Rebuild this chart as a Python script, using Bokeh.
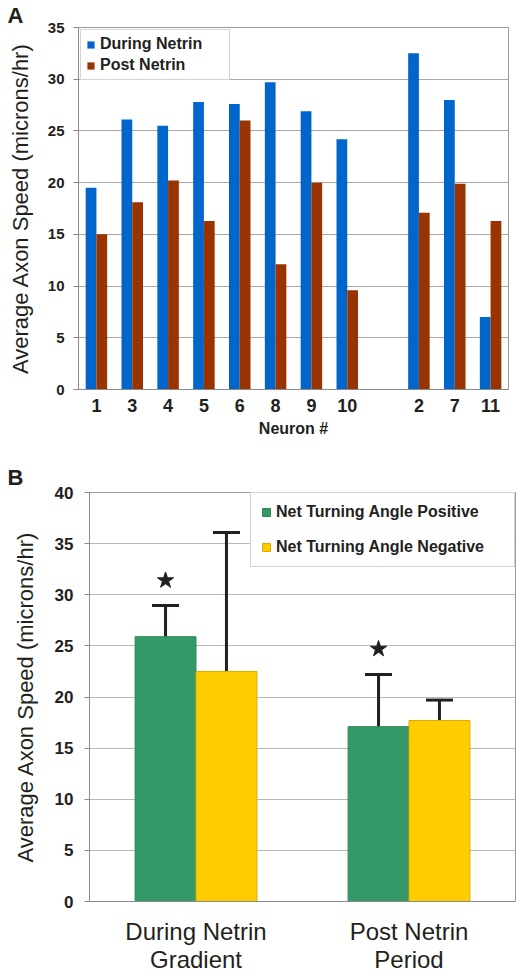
from bokeh.plotting import figure
from bokeh.models import (ColumnDataSource, FactorRange, Range1d, FixedTicker,
                          Legend, LegendItem, Whisker, TeeHead)
from bokeh.transform import dodge
from bokeh.layouts import column
from bokeh.embed import file_html
from bokeh.resources import INLINE

# ---------------- data (panel A) ----------------
neuron_ids = ["1", "3", "4", "5", "6", "8", "9", "10", "2", "7", "11"]
during_netrin = [19.5, 26.1, 25.5, 27.8, 27.6, 29.7, 26.9, 24.2, 32.5, 28.0, 7.0]
post_netrin = [15.0, 18.1, 20.2, 16.3, 26.0, 12.1, 20.0, 9.6, 17.1, 19.9, 16.3]
x_factors_a = neuron_ids[:8] + [" "] + neuron_ids[8:]
y_ticks_a = [0, 5, 10, 15, 20, 25, 30, 35]

# ---------------- data (panel B) ----------------
periods = ["During Netrin\nGradient", "Post Netrin\nPeriod"]
angle_positive = [25.9, 17.1]
angle_negative = [22.5, 17.7]
positive_low = [22.8, 12.0]
positive_high = [28.95, 22.2]
negative_low = [8.9, 15.8]
negative_high = [36.1, 19.7]
star_y = [31.4, 24.7]
y_ticks_b = [0, 5, 10, 15, 20, 25, 30, 35, 40]

BLUE = "#0066CC"
BROWN = "#993300"
GREEN = "#339966"
YELLOW = "#FFCC00"
DARK = "#231F20"
FONT = "Liberation Sans"


def style_axes(p, ytick_size, ylabel_standoff, ytick_standoff):
    p.outline_line_color = "#9a9a9a"
    p.xgrid.grid_line_color = None
    p.ygrid.grid_line_color = "#a8a8a8"
    p.background_fill_color = "white"
    p.border_fill_color = "white"
    for ax in (p.xaxis[0], p.yaxis[0]):
        ax.axis_line_color = "#8a8a8a"
        ax.minor_tick_line_color = None
        ax.major_label_text_font = FONT
        ax.major_label_text_font_style = "bold"
        ax.major_label_text_color = DARK
        ax.axis_label_text_font = FONT
        ax.axis_label_text_color = DARK
    p.xaxis.major_tick_line_color = None
    p.yaxis.major_tick_line_color = "#8a8a8a"
    p.yaxis.major_tick_out = 5
    p.yaxis.major_tick_in = 0
    p.yaxis.major_label_text_font_size = ytick_size
    p.yaxis.major_label_standoff = ytick_standoff
    p.yaxis.axis_label_text_font_style = "normal"
    p.yaxis.axis_label_text_font_size = "22px"
    p.yaxis.axis_label_standoff = ylabel_standoff


def style_title(p, offset, standoff):
    p.title.align = "left"
    p.title.offset = offset
    p.title.standoff = standoff
    p.title.text_font = FONT
    p.title.text_font_style = "bold"
    p.title.text_font_size = "22px"
    p.title.text_color = DARK
    p.title.text_line_height = 1.0


# ---------------- panel A ----------------
srcA = ColumnDataSource(dict(neuron=neuron_ids, during=during_netrin, post=post_netrin))
pA = figure(x_range=FactorRange(*x_factors_a), y_range=Range1d(0, 35),
            width=527, height=440, output_backend="svg", toolbar_location=None,
            title="A",
            min_border_left=78, min_border_right=19, min_border_top=21,
            min_border_bottom=51)
rA1 = pA.vbar(x=dodge("neuron", -0.15, range=pA.x_range), top="during", width=0.3,
              source=srcA, fill_color=BLUE, line_color=None)
rA2 = pA.vbar(x=dodge("neuron", 0.15, range=pA.x_range), top="post", width=0.3,
              source=srcA, fill_color=BROWN, line_color=None)
style_axes(pA, "15px", 12, 9)
style_title(pA, -71, 0)
pA.yaxis.ticker = FixedTicker(ticks=y_ticks_a)
pA.yaxis.axis_label = "Average Axon Speed (microns/hr)"
pA.xaxis.major_label_text_font_size = "18px"
pA.xaxis.major_label_standoff = 0
pA.xaxis.axis_label = "Neuron #"
pA.xaxis.axis_label_text_font_style = "bold"
pA.xaxis.axis_label_text_font_size = "16px"
pA.xaxis.axis_label_standoff = 1

legA = Legend(items=[LegendItem(label="During Netrin", renderers=[rA1]),
                     LegendItem(label="Post Netrin", renderers=[rA2])],
              location="top_left", margin=2, padding=5, spacing=3,
              label_height=16, label_width=124, glyph_width=9, glyph_height=9,
              label_standoff=5, label_text_font=FONT, label_text_font_style="bold",
              label_text_font_size="16px", label_text_color=DARK,
              border_line_color="#aaaaaa", border_line_width=1,
              background_fill_color="white", background_fill_alpha=1.0)
pA.add_layout(legA, "center")

# ---------------- panel B ----------------
srcB = ColumnDataSource(dict(period=periods, pos=angle_positive, neg=angle_negative,
                             pos_low=positive_low, pos_high=positive_high,
                             neg_low=negative_low, neg_high=negative_high,
                             star=star_y))
pB = figure(x_range=FactorRange(*periods), y_range=Range1d(0, 40),
            width=527, height=535, output_backend="svg", toolbar_location=None,
            title="B",
            min_border_left=89, min_border_right=12, min_border_top=52,
            min_border_bottom=74)
rB1 = pB.vbar(x=dodge("period", -0.143, range=pB.x_range), top="pos", width=0.286,
              source=srcB, fill_color=GREEN, line_color="#2e8a5b")
rB2 = pB.vbar(x=dodge("period", 0.143, range=pB.x_range), top="neg", width=0.286,
              source=srcB, fill_color=YELLOW, line_color="#d8ac00")
for off, lo, hi in ((-0.143, "pos_low", "pos_high"), (0.143, "neg_low", "neg_high")):
    w = Whisker(base=dodge("period", off, range=pB.x_range), lower=lo, upper=hi,
                source=srcB, line_color=DARK, line_width=3,
                upper_head=TeeHead(size=27, line_color=DARK, line_width=3),
                lower_head=TeeHead(size=27, line_color=DARK, line_width=3))
    pB.add_layout(w)
pB.scatter(x=dodge("period", -0.143, range=pB.x_range), y="star", marker="star",
           size=17, source=srcB, fill_color=DARK, line_color=DARK)
style_axes(pB, "17px", 14, 11)
style_title(pB, -82, 5)
pB.yaxis.ticker = FixedTicker(ticks=y_ticks_b)
pB.yaxis.axis_label = "Average Axon Speed (microns/hr)"
pB.ygrid.grid_line_color = "#b8b8b8"
pB.xaxis.major_label_text_font_size = "24px"
pB.xaxis.major_label_text_font_style = "normal"
pB.xaxis.major_label_text_line_height = 1.05
pB.xaxis.major_label_standoff = 10

legB = Legend(items=[LegendItem(label="Net Turning Angle Positive", renderers=[rB1]),
                     LegendItem(label="Net Turning Angle Negative", renderers=[rB2])],
              location="top_right", margin=0, padding=10, spacing=17,
              label_height=18, label_width=228, glyph_width=10, glyph_height=10,
              label_standoff=5, label_text_font=FONT, label_text_font_style="bold",
              label_text_font_size="16px", label_text_color=DARK,
              border_line_color="#aaaaaa", border_line_width=1,
              background_fill_color="white", background_fill_alpha=1.0)
pB.add_layout(legB, "center")

# wrap each figure separately so their frames are not aligned to each other
layout = column(column(pA), column(pB), spacing=0)
open("out.html", "w").write(file_html(layout, INLINE))
